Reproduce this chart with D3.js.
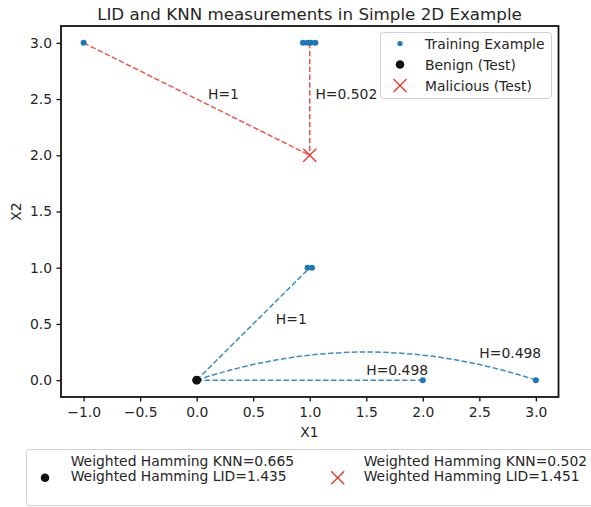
<!DOCTYPE html>
<html lang="en">
	<head>
		<meta charset="utf-8">
		<title>LID and KNN measurements</title>
		<script src="https://d3js.org/d3.v7.min.js"></script>
		<style type="text/css">
			body { margin: 0; background: #fff; }
			text { font-family: "DejaVu Sans", sans-serif; fill: #262626; }
		</style>
	</head>
	<body>
		<script type="text/javascript">
			//Width and height
			var w = 591;
			var h = 507;

			//Data
			var trainX = [-1, 0.94, 0.98, 1.01, 1.05, 0.98, 1.02, 2, 3];
			var trainY = [3, 3, 3, 3, 3, 1, 1, 0, 0];
			var benign = [0, 0];
			var malicious = [1, 2];
			//straight neighbour links: [x1, y1, x2, y2]
			var redLinks = [[-1, 3, 1, 2], [1, 3, 1, 2]];
			var blueLinks = [[0, 0, 1, 1], [0, 0, 2, 0]];
			//curved link with its control point: [x1, y1, cx, cy, x2, y2]
			var blueArc = [0, 0, 1.5, 0.5, 3, 0];
			var labelText = ["H=1", "H=0.502", "H=1", "H=0.498", "H=0.498"];
			var labelX = [0.1, 1.05, 0.7, 1.5, 2.5];
			var labelY = [2.5, 2.5, 0.5, 0.05, 0.2];
			var xTicks = [-1.0, -0.5, 0.0, 0.5, 1.0, 1.5, 2.0, 2.5, 3.0];
			var yTicks = [0.0, 0.5, 1.0, 1.5, 2.0, 2.5, 3.0];
			var legendLabels = ["Training Example", "Benign (Test)", "Malicious (Test)"];
			var scoreLabels = [
				["Weighted Hamming KNN=0.665", "Weighted Hamming LID=1.435"],
				["Weighted Hamming KNN=0.502", "Weighted Hamming LID=1.451"]
			];

			var blue = "#1f77b4";
			var red = "#e8392e";
			var fs = "13.9px";

			var svg = d3.select("body")
				.append("svg")
				.attr("width", w)
				.attr("height", h);

			var x = d3.scaleLinear().domain([-1.2, 3.2]).range([61, 558.5]);
			var y = d3.scaleLinear().domain([-0.15, 3.15]).range([397, 26]);

			//matplotlib style minus sign
			var fmt = function(d) { return d3.format(".1f")(d).replace("-", "\u2212"); };

			//Axes
			var xAxis = svg.append("g")
				.attr("transform", "translate(0,397)")
				.call(d3.axisBottom(x).tickValues(xTicks).tickSize(4.5).tickPadding(6)
					.tickFormat(fmt));
			var yAxis = svg.append("g")
				.attr("transform", "translate(61,0)")
				.call(d3.axisLeft(y).tickValues(yTicks).tickSize(4.5).tickPadding(4.5)
					.tickFormat(fmt));
			[xAxis, yAxis].forEach(function(a) {
				a.select(".domain").remove();
				a.selectAll(".tick line").attr("stroke", "#111").attr("stroke-width", 1.3);
				a.selectAll(".tick text")
					.style("font-family", "DejaVu Sans")
					.style("font-size", fs)
					.attr("fill", "#262626");
			});

			//Frame
			svg.append("rect")
				.attr("x", x.range()[0])
				.attr("y", y.range()[1])
				.attr("width", x.range()[1] - x.range()[0])
				.attr("height", y.range()[0] - y.range()[1])
				.attr("fill", "none")
				.attr("stroke", "#111")
				.attr("stroke-width", 1.8);

			//Links
			function drawLinks(links, color) {
				svg.selectAll(null)
					.data(links)
					.enter()
					.append("line")
					.attr("x1", function(d) { return x(d[0]); })
					.attr("y1", function(d) { return y(d[1]); })
					.attr("x2", function(d) { return x(d[2]); })
					.attr("y2", function(d) { return y(d[3]); })
					.attr("stroke", color)
					.attr("stroke-opacity", 0.85)
					.attr("stroke-width", 1.5)
					.attr("stroke-dasharray", "5.5,2.4");
			}
			drawLinks(redLinks, red);
			drawLinks(blueLinks, blue);

			var arc = d3.path();
			arc.moveTo(x(blueArc[0]), y(blueArc[1]));
			arc.quadraticCurveTo(x(blueArc[2]), y(blueArc[3]), x(blueArc[4]), y(blueArc[5]));
			svg.append("path")
				.attr("d", arc.toString())
				.attr("fill", "none")
				.attr("stroke", blue)
				.attr("stroke-opacity", 0.85)
				.attr("stroke-width", 1.5)
				.attr("stroke-dasharray", "5.5,2.4");

			//Training points
			svg.selectAll(null)
				.data(d3.range(trainX.length))
				.enter()
				.append("circle")
				.attr("cx", function(i) { return x(trainX[i]); })
				.attr("cy", function(i) { return y(trainY[i]); })
				.attr("r", 3)
				.attr("fill", blue);

			//Test points
			svg.append("circle")
				.attr("cx", x(benign[0]))
				.attr("cy", y(benign[1]))
				.attr("r", 4.5)
				.attr("fill", "#111");

			function cross(g, cx, cy, s) {
				g.append("path")
					.attr("d", "M" + (cx - s) + "," + (cy - s) + "L" + (cx + s) + "," + (cy + s) +
						"M" + (cx - s) + "," + (cy + s) + "L" + (cx + s) + "," + (cy - s))
					.attr("stroke", red)
					.attr("stroke-width", 1.4)
					.attr("fill", "none");
			}
			cross(svg, x(malicious[0]), y(malicious[1]), 6.5);

			//Distance labels
			svg.selectAll(null)
				.data(labelText)
				.enter()
				.append("text")
				.attr("x", function(d, i) { return x(labelX[i]); })
				.attr("y", function(d, i) { return y(labelY[i]); })
				.style("font-size", fs)
				.text(function(d) { return d; });

			//Title and axis labels
			svg.append("text")
				.attr("x", 309.5)
				.attr("y", 19.5)
				.attr("text-anchor", "middle")
				.style("font-size", "16.7px")
				.text("LID and KNN measurements in Simple 2D Example");
			svg.append("text")
				.attr("x", 309.5)
				.attr("y", 437)
				.attr("text-anchor", "middle")
				.style("font-size", fs)
				.text("X1");
			svg.append("text")
				.attr("transform", "translate(21,211.5) rotate(-90)")
				.attr("text-anchor", "middle")
				.style("font-size", fs)
				.text("X2");

			//Main legend
			var lg = svg.append("g");
			lg.append("rect")
				.attr("x", 380.5).attr("y", 32.5)
				.attr("width", 171).attr("height", 66)
				.attr("rx", 3)
				.attr("fill", "#fff").attr("fill-opacity", 0.8)
				.attr("stroke", "#d0d0d0");
			var rowY = [43.5, 64.5, 85.5];
			lg.append("circle").attr("cx", 400).attr("cy", rowY[0]).attr("r", 2.6).attr("fill", blue);
			lg.append("circle").attr("cx", 400).attr("cy", rowY[1]).attr("r", 4.3).attr("fill", "#111");
			cross(lg, 400, rowY[2], 6.5);
			lg.selectAll(null)
				.data(legendLabels)
				.enter()
				.append("text")
				.attr("x", 425)
				.attr("y", function(d, i) { return rowY[i] + 5; })
				.style("font-size", fs)
				.text(function(d) { return d; });

			//Score legend below the plot
			var sg = svg.append("g");
			sg.append("rect")
				.attr("x", 26.5).attr("y", 449.5)
				.attr("width", 580).attr("height", 56)
				.attr("rx", 3)
				.attr("fill", "#fff")
				.attr("stroke", "#d0d0d0");
			sg.append("circle").attr("cx", 45).attr("cy", 477.7).attr("r", 4.3).attr("fill", "#111");
			cross(sg, 337.7, 477.7, 6.5);
			var colX = [70.7, 363.7];
			scoreLabels.forEach(function(lines, c) {
				lines.forEach(function(t, k) {
					sg.append("text")
						.attr("x", colX[c])
						.attr("y", 466 + k * 15.3)
						.style("font-size", fs)
						.text(t);
				});
			});
		</script>
	</body>
</html>
